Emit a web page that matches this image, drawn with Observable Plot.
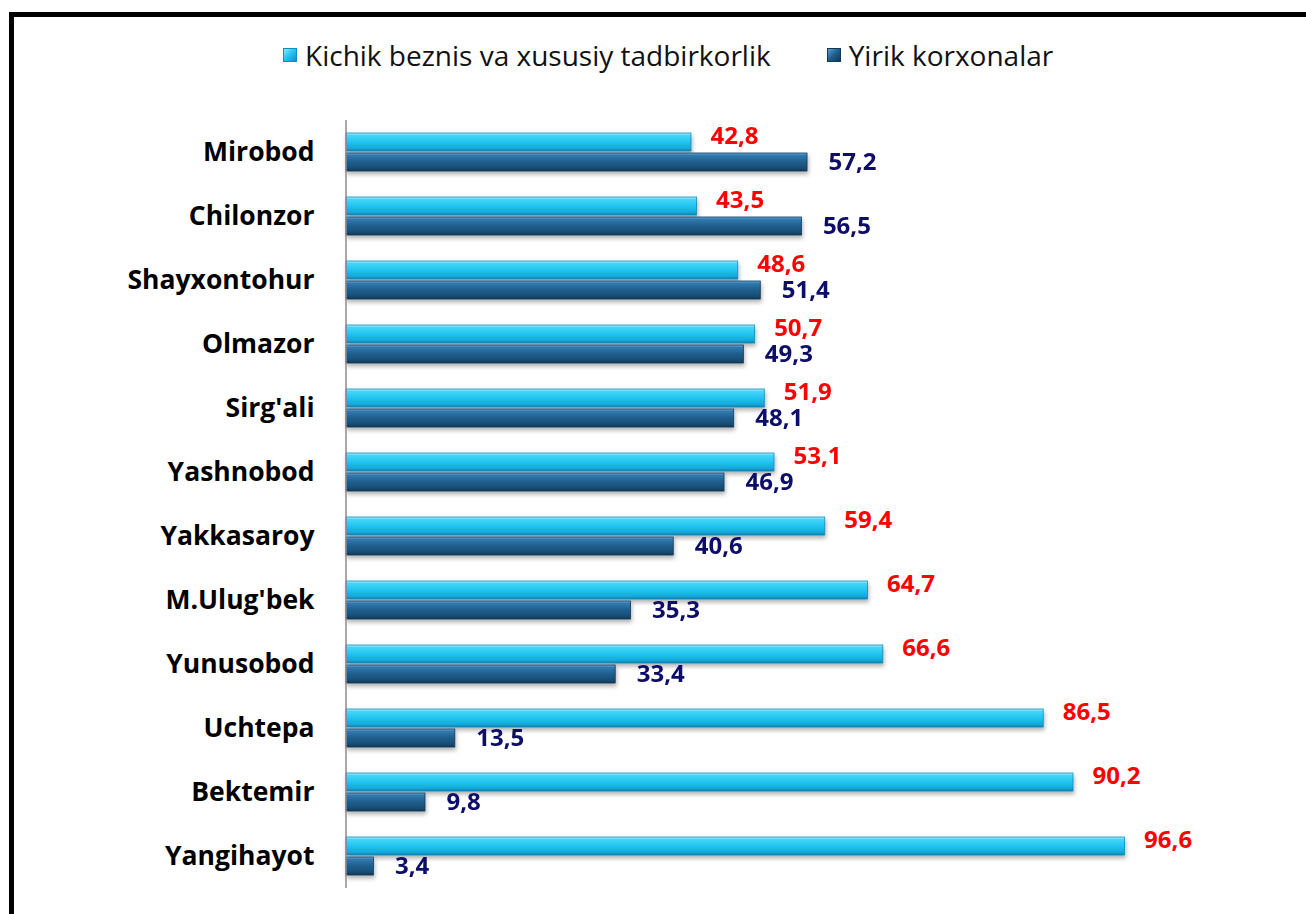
<!DOCTYPE html>
<html>
<head>
<meta charset="utf-8">
<script src="https://cdn.jsdelivr.net/npm/d3@7"></script>
<script src="https://cdn.jsdelivr.net/npm/@observablehq/plot@0.6"></script>
<style>
  html, body { margin: 0; padding: 0; background: #fff; }
  body { width: 1306px; height: 914px; overflow: hidden; position: relative; font-family: 'Open Sans', sans-serif; }
  #frame { position: absolute; left: 9px; top: 12px; width: 1400px; height: 1000px; border: 5px solid #000; box-sizing: border-box; }
  #legend { position: absolute; left: 283px; top: 36px; display: flex; align-items: center; font-size: 28px; color: #111; white-space: nowrap; }
  .item { display: flex; align-items: center; }
  .item + .item { margin-left: 56px; }
  .sw { width: 14px; height: 14px; margin-right: 8px; box-sizing: border-box; }
  .sw.light { background: linear-gradient(135deg, #8fe9ff 0%, #22c3f0 50%, #0d8fc0 100%); border: 1px solid #0e8fbf; }
  .sw.dark { background: linear-gradient(135deg, #5c9fd0 0%, #1f5e8c 50%, #113856 100%); border: 1px solid #0f3a5a; }
  #chart { position: absolute; left: 0; top: 90px; }
</style>
</head>
<body>
<div id="frame"></div>
<div id="legend"></div>
<div id="chart"></div>
<script>
const districts = ["Mirobod","Chilonzor","Shayxontohur","Olmazor","Sirg'ali","Yashnobod","Yakkasaroy","M.Ulug'bek","Yunusobod","Uchtepa","Bektemir","Yangihayot"];
const smallBusiness = [42.8,43.5,48.6,50.7,51.9,53.1,59.4,64.7,66.6,86.5,90.2,96.6];
const largeEnterprises = [57.2,56.5,51.4,49.3,48.1,46.9,40.6,35.3,33.4,13.5,9.8,3.4];
const seriesNames = ["Kichik beznis va xususiy tadbirkorlik","Yirik korxonalar"];

const smallData = districts.map((d, i) => ({district: d, series: seriesNames[0], value: smallBusiness[i]}));
const largeData = districts.map((d, i) => ({district: d, series: seriesNames[1], value: largeEnterprises[i]}));
const fmt = v => v.toFixed(1).replace(".", ",");

// legend
const legend = document.getElementById("legend");
seriesNames.forEach((name, i) => {
  const it = document.createElement("div");
  it.className = "item";
  const sw = document.createElement("span");
  sw.className = "sw " + (i === 0 ? "light" : "dark");
  const tx = document.createElement("span");
  tx.textContent = name;
  it.appendChild(sw); it.appendChild(tx);
  legend.appendChild(it);
});

const chart = Plot.plot({
  width: 1306,
  height: 821,
  marginTop: 27,
  marginBottom: 21,
  marginLeft: 346,
  marginRight: 154,
  x: {domain: [0, 100], axis: null},
  y: {domain: seriesNames, axis: null, paddingInner: 0.1, paddingOuter: 0.58},
  fy: {domain: districts, padding: 0, label: null},
  style: {fontFamily: "'Open Sans', sans-serif", background: "transparent", overflow: "visible"},
  marks: [
    Plot.axisFy({anchor: "left", tickSize: 0, tickPadding: 32, fontSize: 26.5, fontWeight: "bold", fill: "#000", label: null}),
    Plot.barX(smallData, {x: "value", y: "series", fy: "district", fill: "url(#gLight)", stroke: "#0e8fbf", strokeWidth: 0.8}),
    Plot.barX(largeData, {x: "value", y: "series", fy: "district", fill: "url(#gDark)", stroke: "#0f3a5a", strokeWidth: 0.8}),
    Plot.ruleX([0], {stroke: "#8c8c8c", strokeWidth: 1.5, dx: -0.5}),
    Plot.text(smallData, {x: "value", y: "series", fy: "district", text: d => fmt(d.value), textAnchor: "start", dx: 19, dy: -6, fill: "#ff0000", fontSize: 24, fontWeight: "bold"}),
    Plot.text(largeData, {x: "value", y: "series", fy: "district", text: d => fmt(d.value), textAnchor: "start", dx: 21, dy: 0, fill: "#0d0d6b", fontSize: 24, fontWeight: "bold"})
  ]
});

const svg = d3.select(chart);
const defs = svg.insert("defs", ":first-child");
function grad(id, stops) {
  const g = defs.append("linearGradient").attr("id", id).attr("x1", 0).attr("y1", 0).attr("x2", 0).attr("y2", 1);
  stops.forEach(([o, c]) => g.append("stop").attr("offset", o).attr("stop-color", c));
}
grad("gLight", [["0%", "#b5f2ff"], ["14%", "#45d5fa"], ["50%", "#22c4f1"], ["85%", "#14a8d9"], ["100%", "#0b80ae"]]);
grad("gDark", [["0%", "#6aaad8"], ["14%", "#2f79b0"], ["50%", "#1f5e8c"], ["85%", "#184c73"], ["100%", "#103653"]]);
svg.selectAll('g[aria-label="bar"]').style("filter", "drop-shadow(1px 3px 2px rgba(0,0,0,0.3))");

document.getElementById("chart").appendChild(chart);
</script>
</body>
</html>
